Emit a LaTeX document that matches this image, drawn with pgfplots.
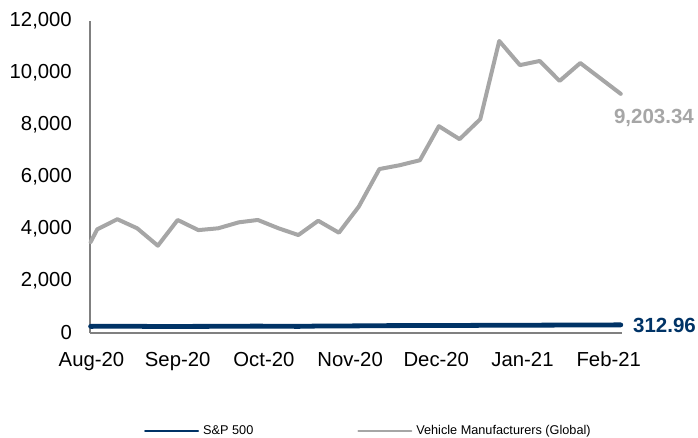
\documentclass[border=0pt]{standalone}
\usepackage{pgfplots}
\pgfplotsset{compat=1.18}
\usepackage{fontspec}
\setmainfont{Liberation Sans}
\definecolor{navy}{RGB}{0,51,102}
\definecolor{vgray}{RGB}{166,166,166}
\definecolor{axgray}{RGB}{128,128,128}
\begin{document}
\begin{tikzpicture}[x=1pt,y=1pt]
\useasboundingbox (0,0) rectangle (698,437);
\begin{axis}[
  at={(90pt,104pt)}, anchor=south west,
  scale only axis, width=532pt, height=311.8pt,
  xmin=-0.017, xmax=6.154, ymin=0, ymax=12000,
  axis x line=bottom, axis y line=left,
  axis line style={draw=axgray, line width=1.6pt, -},
  major tick length=0pt,
  xtick={0,1,2,3,4,5,6},
  xticklabels={Aug-20,Sep-20,Oct-20,Nov-20,Dec-20,Jan-21,Feb-21},
  ytick={0,2000,4000,6000,8000,10000,12000},
  scaled y ticks=false,
  /pgf/number format/assume math mode=true,
  yticklabel style={/pgf/number format/1000 sep={,}, inner sep=0pt, anchor=east, xshift=-18pt},
  xticklabel style={inner sep=0pt, anchor=north, yshift=-19pt},
  every tick label/.append style={font=\fontsize{20.3}{24}\selectfont},
  legend columns=2,
  legend style={at={(rel axis cs:0.1015,-0.314)}, anchor=west, draw=none, fill=none, inner sep=0pt,
    font=\fontsize{12.7}{14}\selectfont, nodes={inner sep=0pt},
    /tikz/every odd column/.append style={column sep=4pt},
    /tikz/every even column/.append style={column sep=104pt}},
  legend image code/.code={\draw[#1,line width=2pt] (0pt,0pt) -- (53pt,0pt);},
  clip=false,
]
\addplot[navy, line width=4.8pt, line cap=round, line join=round] coordinates {
(-0.01,255) (0.067,258) (0.30,262) (0.53,258) (0.77,250) (1.00,252) (1.24,255) (1.47,257) (1.71,262)
(1.93,265) (2.17,260) (2.40,255) (2.63,268) (2.87,270) (3.10,275) (3.34,282) (3.58,285) (3.81,290)
(4.03,285) (4.27,290) (4.51,295) (4.73,300) (4.97,298) (5.20,302) (5.43,305) (5.67,307) (6.14,312.96)
} node[pos=1, anchor=base west, inner sep=0pt, xshift=10pt, yshift=-8pt, text=navy, font=\fontsize{20.5}{24}\selectfont\bfseries] {312.96};
\addlegendentry{S\&P 500}
\addplot[vgray, line width=4pt, line cap=round, line join=round] coordinates {
(-0.01,3500) (0.067,3990) (0.30,4380) (0.53,4030) (0.77,3360) (1.00,4350) (1.24,3960) (1.47,4030) (1.71,4260)
(1.93,4350) (2.17,4030) (2.40,3770) (2.63,4320) (2.87,3860) (3.10,4860) (3.34,6310) (3.58,6460) (3.81,6650)
(4.03,7960) (4.27,7460) (4.51,8230) (4.73,11240) (4.97,10310) (5.20,10470) (5.43,9700) (5.67,10390) (6.14,9203.34)
} node[pos=1, anchor=base west, inner sep=0pt, xshift=-8.7pt, yshift=-29.7pt, text=vgray, font=\fontsize{20.5}{24}\selectfont\bfseries] {9,203.34};
\addlegendentry{Vehicle Manufacturers (Global)}
\end{axis}
\end{tikzpicture}
\end{document}
